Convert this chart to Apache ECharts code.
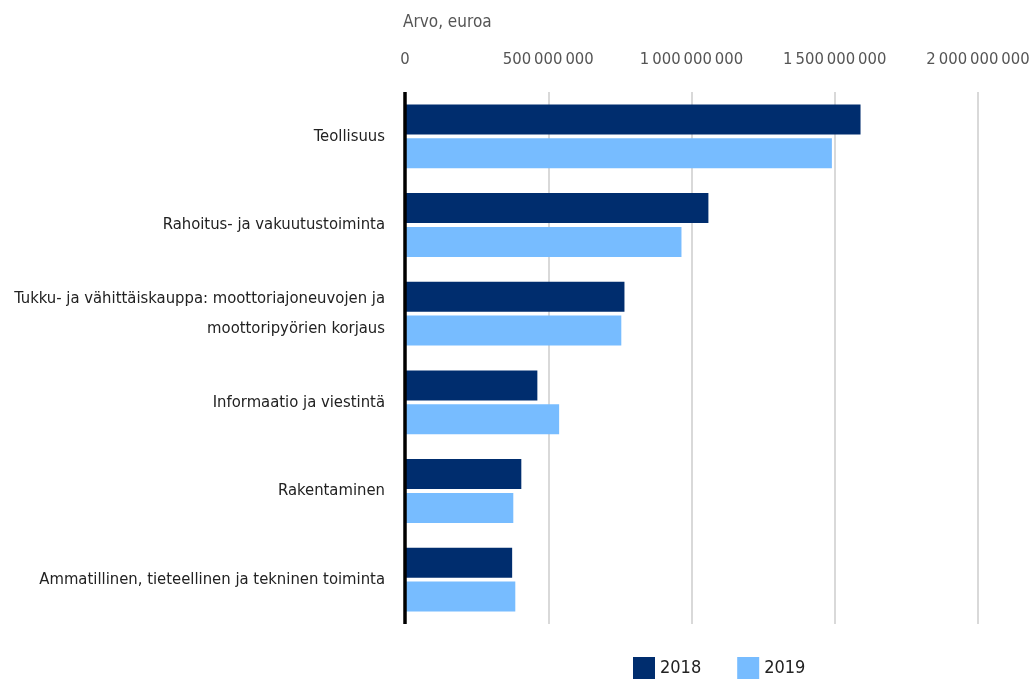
<!DOCTYPE html>
<html>
<head>
<meta charset="utf-8">
<script src="https://cdn.jsdelivr.net/npm/echarts@6/dist/echarts.min.js"></script>
<style>
html,body{margin:0;padding:0;background:#fff;}
#chart{width:1032px;height:684px;}
</style>
</head>
<body>
<div id="chart"></div>
<script>
const categories = [
  'Teollisuus',
  'Rahoitus- ja vakuutustoiminta',
  'Tukku- ja vähittäiskauppa: moottoriajoneuvojen ja\nmoottoripyörien korjaus',
  'Informaatio ja viestintä',
  'Rakentaminen',
  'Ammatillinen, tieteellinen ja tekninen toiminta'
];
const values2018 = [1590000000, 1059000000, 766000000, 462000000, 406000000, 374000000];
const values2019 = [1490000000, 965000000, 755000000, 538000000, 378000000, 385000000];
const seriesNames = ['2018', '2019'];
const axisTitle = 'Arvo, euroa';

const FONT = '"DejaVu Sans Condensed", "Liberation Sans Narrow", sans-serif';
const chart = echarts.init(document.getElementById('chart'));
chart.setOption({
  animation: false,
  title: {
    text: axisTitle, left: 398, top: 9,
    textStyle: {fontFamily: FONT, fontSize: 17, fontWeight: 'normal', color: '#555'}
  },
  legend: {
    data: seriesNames, left: 628, bottom: 0, icon: 'rect',
    itemWidth: 22, itemHeight: 22, itemGap: 36,
    textStyle: {fontFamily: FONT, fontSize: 18, color: '#222'}
  },
  grid: {left: 405, right: 54, top: 92, bottom: 60, outerBoundsMode: 'none', containLabel: false},
  xAxis: {
    type: 'value', position: 'top', min: 0, max: 2000000000, interval: 500000000,
    axisLine: {show: false}, axisTick: {show: false},
    splitLine: {lineStyle: {color: '#d9d9d9', width: 2}},
    axisLabel: {
      margin: 24, fontFamily: FONT, fontSize: 16.5, color: '#555', hideOverlap: false,
      formatter: v => v.toString().replace(/\B(?=(\d{3})+(?!\d))/g, '\u2009')
    }
  },
  yAxis: {
    type: 'category', data: categories, inverse: true, z: 10,
    axisLine: {lineStyle: {color: '#000', width: 3.5, cap: 'butt'}},
    axisTick: {show: false},
    axisLabel: {margin: 20, fontFamily: FONT, fontSize: 16.5, color: '#222', lineHeight: 30, align: 'right'}
  },
  series: [
    {name: seriesNames[0], type: 'bar', data: values2018, barWidth: 30, barGap: '13%', itemStyle: {color: '#002d6e', borderRadius: 0, borderWidth: 0}},
    {name: seriesNames[1], type: 'bar', data: values2019, barWidth: 30, barGap: '13%', itemStyle: {color: '#77bcff', borderRadius: 0, borderWidth: 0}}
  ]
});
</script>
</body>
</html>
